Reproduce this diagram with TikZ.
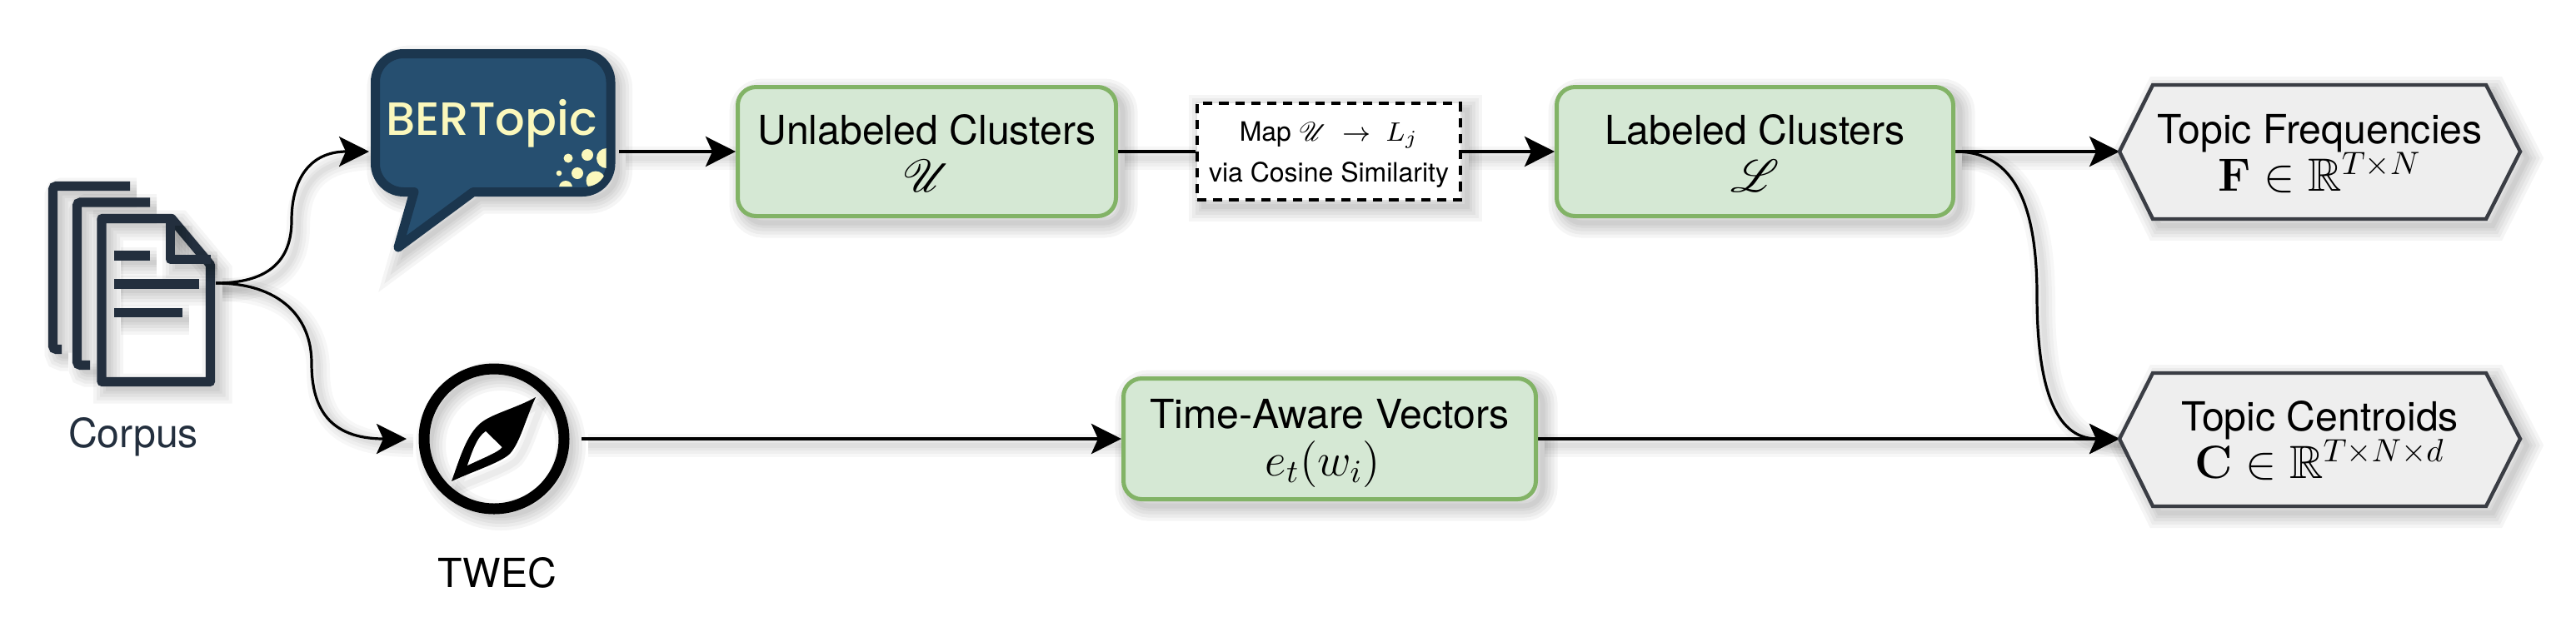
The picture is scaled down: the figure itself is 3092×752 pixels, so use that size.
\documentclass[tikz,border=0pt,12pt]{standalone}
\usepackage{amsmath,amssymb,mathrsfs,graphicx}
\usepackage[no-math]{fontspec}
\setmainfont{TeX Gyre Heros}
\newfontfamily\bertfont{Poppins Medium}
\usetikzlibrary{arrows.meta,backgrounds}
\definecolor{docink}{HTML}{232F3E}
\definecolor{boxfill}{HTML}{D5E8D4}
\definecolor{boxline}{HTML}{82B366}
\definecolor{hexfill}{HTML}{EEEEEE}
\definecolor{hexline}{HTML}{3A3D44}
\definecolor{bubfill}{HTML}{264F70}
\definecolor{bubline}{HTML}{1B364E}
\definecolor{bubtext}{HTML}{FBF8BC}
\definecolor{foldfill}{HTML}{E4E4E4}
\newcommand{\mline}[1]{{\fontsize{14.4}{14.25}\selectfont\scalebox{0.95}{$#1$}}}
\newcommand{\hexmath}[1]{{\fontsize{14.4}{14.25}\selectfont\scalebox{0.97}{$#1$}}}
\newcommand{\lowertext}[1]{\rule{0pt}{#1pt}}
\normallineskiplimit=-20pt
\lineskiplimit=-20pt
\tikzset{
  x=0.25pt,y=-0.25pt,
  shl/.style={preaction={draw=black,solid,arrows=-,line width=#1,draw opacity=.04,fill opacity=0,transform canvas={shift={(2pt,-2pt)}}}},
  softshadow/.style={shl=9pt,shl=7pt,shl=5pt,shl=3pt,shl=1.5pt},
  lhl/.style={preaction={draw=black,solid,arrows=-,line width=#1,draw opacity=.03,transform canvas={shift={(2pt,-2pt)}}}},
  lineshadow/.style={lhl=7pt,lhl=5pt,lhl=3pt,lhl=1.5pt},
  basefont/.style={font=\fontsize{12.05}{14.25}\selectfont,align=center},
  greenbox/.style={basefont,draw=boxline,fill=boxfill,line width=1.25pt,rounded corners=5.5pt,softshadow,inner sep=0pt},
  mapbox/.style={draw=black,fill=white,line width=1pt,dash pattern=on 2.8pt off 2pt,softshadow,inner sep=0pt,align=center},
  hexnode/.style={basefont,minimum width=120.25pt,minimum height=40pt,inner sep=0pt,outer sep=0pt},
  hexshape/.style={draw=hexline,fill=hexfill,line width=1.1pt,line join=miter,softshadow},
  ghost/.style={inner sep=0pt,outer sep=0pt},
  flow/.style={draw=black,line width=1pt,lineshadow,-{Stealth[length=9pt,width=9pt,inset=2pt]}},
  plainflow/.style={draw=black,line width=1pt,lineshadow},
  curveflow/.style={draw=black,line width=.8pt,lineshadow,-{Stealth[length=9pt,width=9pt,inset=2pt]}},
  inkline/.style={draw=docink,line width=2.8pt,softshadow},
}
\begin{document}
\begin{tikzpicture}
\useasboundingbox (0,0) rectangle (3092,752);
\begin{scope}[on background layer]
  \fill[white] (0,0) rectangle (3092,752);
\end{scope}

% document icon
\draw[inkline,rounded corners=1pt] (156,223.5) -- (63.5,223.5) -- (63.5,419.5) -- (74,419.5);
\draw[inkline,rounded corners=1pt] (180,243) -- (92.5,243) -- (92.5,438.5) -- (108,438.5);
\fill[foldfill] (204.5,262) -- (252,316) -- (204.5,316) -- cycle;
\draw[inkline,line join=round] (122,262.5) -- (206,262.5) -- (252.5,318) -- (252.5,458.5) -- (122,458.5) -- cycle;
\draw[inkline,line join=round] (204.5,262.5) -- (204.5,311.5) -- (252.5,311.5);
\draw[inkline] (137,307) -- (180,307);
\draw[inkline] (137,341) -- (238.5,341);
\draw[inkline] (137,375.5) -- (219,375.5);
\node[ghost,minimum width=50.25pt,minimum height=61.5pt] (corpus) at (158.5,340) {};
\node[basefont,text=docink] (corpuslabel) at (160,525) {Corpus};

% speech bubble
\draw[fill=bubfill,draw=bubline,line width=2.75pt,line join=round,softshadow,rounded corners=8.5pt]
  (590,64.5) -- (733,64.5) -- (733,230.5) [sharp corners] -- (568,230.5) -- (478,297) -- (497,230.5) [rounded corners=8.5pt] -- (450.5,230.5) -- (450.5,64.5) -- cycle;
\begin{scope}
  \clip[rounded corners=6pt] (455,70) rectangle (727.7,224);
  \fill[bubtext] (682,190) circle[radius=5.5] (705,186) circle[radius=7] (693,208) circle[radius=7]
    (671,208) circle[radius=3.3] (728,190) circle[radius=12] (715,217) circle[radius=11.5] (679,225) circle[radius=8];
\end{scope}
\node[inner sep=0pt,text=bubtext,font=\bertfont\fontsize{14}{16}\selectfont] (bertname) at (590,148) {BERTopic};
\node[ghost,minimum width=75pt,minimum height=25pt] (bert) at (593,182) {};

% compass
\node[ghost,circle,minimum size=52.5pt] (twec) at (593,527) {};
\draw[black,line width=3.25pt,softshadow] (593,527) circle[radius=84];
\fill[black,shl=4pt,shl=2pt] (643,477) .. controls (630,505) and (625,530) .. (612,545) .. controls (600,556) and (570,565) .. (542,578) .. controls (552,550) and (560,522) .. (577,508) .. controls (590,497) and (620,490) .. (643,477) -- cycle;
\fill[white] (583,518) -- (602.5,537) .. controls (600,542) and (580,550) .. (561,559) .. controls (566,545) and (572,525) .. (583,518) -- cycle;
\node[basefont] (twecname) at (597,688) {TWEC};

% boxes
\node[greenbox,minimum width=113.5pt,minimum height=38.75pt] (unlabeled) at (1112.5,182) {\lowertext{10}Unlabeled Clusters\\\mline{\mathscr{U}}};
\node[mapbox,minimum width=79pt,minimum height=29pt,font=\fontsize{8}{12.25}\selectfont] (mapstep) at (1595,182) {\lowertext{7.5}Map $\mathscr{U}\ \rightarrow\ L_j$\\via Cosine Similarity};
\node[greenbox,minimum width=119pt,minimum height=38.75pt] (labeled) at (2106.5,182) {\lowertext{10}Labeled Clusters\\\mline{\mathscr{L}}};
\node[greenbox,minimum width=123.75pt,minimum height=36.25pt] (vectors) at (1596,527) {\lowertext{11.5}Time-Aware Vectors\\\hexmath{e_t(w_i)}\hspace*{4pt}};

% hexagons
\draw[hexshape] (2544,182) -- (2584,102) -- (2984,102) -- (3025,182) -- (2984,263) -- (2584,263) -- cycle;
\node[hexnode] (freq) at (2784.5,182) {\lowertext{10}Topic Frequencies\\\hexmath{\mathbf{F}\in\mathbb{R}^{T\times N}}};
\draw[hexshape] (2544,527) -- (2584,448) -- (2984,448) -- (3025,527) -- (2984,608) -- (2584,608) -- cycle;
\node[hexnode] (centroids) at (2784.5,527) {\lowertext{10}Topic Centroids\\\hexmath{\mathbf{C}\in\mathbb{R}^{T\times N\times d}}};

% bends of the curved connectors
\coordinate (bendA) at (350,265);
\coordinate (bendB) at (374,436);
\coordinate (bendC) at (2445,355);

% connectors
\begin{scope}[on background layer]
  \draw[curveflow] (corpus.east) .. controls +(61,0) and (350,315) .. (bendA) .. controls (350,215) and (372,182) .. (bert.west);
  \draw[curveflow] (corpus.east) .. controls +(76,0) and (374,380) .. (bendB) .. controls (374,490) and (395,527) .. (twec.west);
  \draw[flow] (bert.east) -- (unlabeled.west);
  \draw[plainflow] (unlabeled.east) -- (mapstep.west);
  \draw[flow] (mapstep.east) -- (labeled.west);
  \draw[flow] (labeled.east) -- (freq.west);
  \draw[curveflow] (labeled.east) .. controls +(73,0) and (2445,250) .. (bendC) .. controls (2445,460) and (2465,527) .. (centroids.west);
  \draw[flow] (twec.east) -- (vectors.west);
  \draw[flow] (vectors.east) -- (centroids.west);
\end{scope}
\end{tikzpicture}
\end{document}
